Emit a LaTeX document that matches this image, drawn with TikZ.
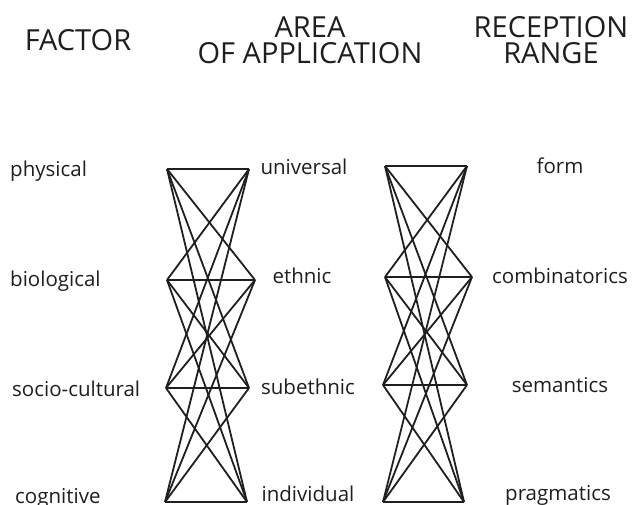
\documentclass[tikz,border=0pt]{standalone}
\usepackage{fontspec}
\setmainfont{Open Sans}
\usepackage{xcolor}
\usetikzlibrary{positioning}
\definecolor{ink}{HTML}{1E1E1E}

\begin{document}
\begin{tikzpicture}[x=1pt, y=-1pt,
  every node/.style={font=\fontsize{20.5}{24}\selectfont, text=ink, inner sep=0pt},
  head/.style={font=\fontsize{29}{26}\selectfont, align=center, anchor=base},
  link/.style={line width=1.8pt, color=black!88}]
\useasboundingbox (0,0) rectangle (635,504);

% column titles
\node [head] (factor) at (78,50) {FACTOR};
\node [head] (area) at (310,63) {AREA\\OF APPLICATION};
\node [head] (range) at (551,63) {RECEPTION\\RANGE};

% factors
\node [anchor=base west] (physical) at (10,176) {physical};
\node [anchor=base west] (biological) at (10,286) {biological};
\node [anchor=base west] (socio) at (12,396) {socio-cultural};
\node [anchor=base west] (cognitive) at (15,503) {cognitive};

% areas
\node [anchor=base] (universal) at (304,174) {universal};
\node [anchor=base] (ethnic) at (302,283) {ethnic};
\node [anchor=base] (subethnic) at (308,394) {subethnic};
\node [anchor=base] (individual) at (308,501) {individual};

% reception
\node [anchor=base] (form) at (560,173) {form};
\node [anchor=base] (combi) at (560,283) {combinatorics};
\node [anchor=base] (semantics) at (560,392) {semantics};
\node [anchor=base] (pragmatics) at (558,500) {pragmatics};

% corners of the two nets
\coordinate (fl1) at (167,169); \coordinate (fr1) at (249,169);
\coordinate (fl2) at (167,280); \coordinate (fr2) at (255,280);
\coordinate (fl3) at (166,388); \coordinate (fr3) at (249,388);
\coordinate (fl4) at (165,502); \coordinate (fr4) at (247,502);

\coordinate (gl1) at (385,166); \coordinate (gr1) at (467,166);
\coordinate (gl2) at (385,277); \coordinate (gr2) at (472,277);
\coordinate (gl3) at (383,385); \coordinate (gr3) at (467,385);
\coordinate (gl4) at (383,502); \coordinate (gr4) at (464,502);

\foreach \i in {1,...,4}
  \foreach \j in {1,...,4} {
    \draw [link] (fl\i) -- (fr\j);
    \draw [link] (gl\i) -- (gr\j);
  }

\end{tikzpicture}
\end{document}
